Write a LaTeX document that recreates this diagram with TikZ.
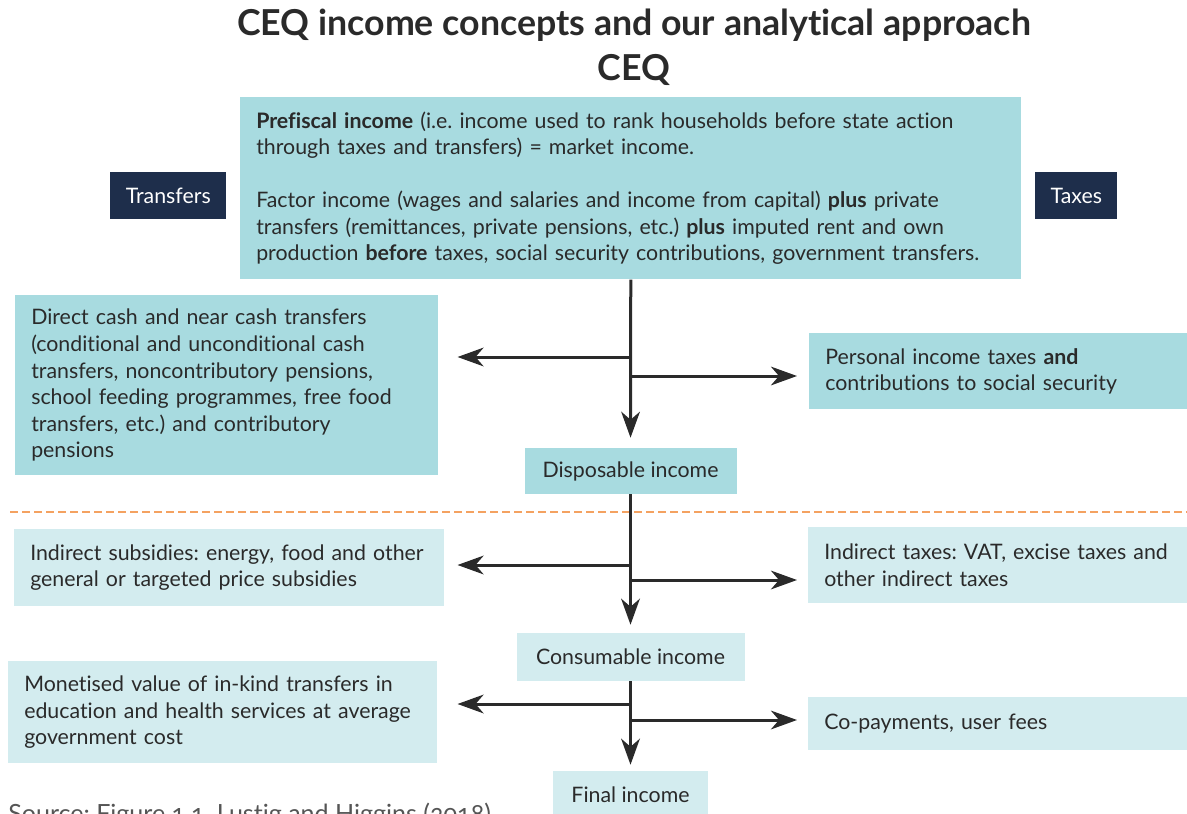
\documentclass[tikz,border=0pt]{standalone}
\usepackage{fontspec}
\setmainfont{Lato}[Ligatures=NoCommon]
\usetikzlibrary{arrows.meta}

\definecolor{boxteal}{HTML}{A8DBE0}
\definecolor{boxpale}{HTML}{D3ECEF}
\definecolor{navy}{HTML}{1E2E4B}
\definecolor{ink}{HTML}{2A2A2A}
\definecolor{rule}{HTML}{F4A261}
\definecolor{srcgray}{HTML}{555555}

\newcommand\bodyfont{\frenchspacing\fontsize{16}{19.9}\selectfont}

\tikzset{
  box/.style={anchor=north west, inner xsep=12pt, inner ysep=0pt,
    align=left, font=\bodyfont, text=ink},
  dark/.style={box, fill=boxteal},
  pale/.style={box, fill=boxpale},
  stage/.style={anchor=center, inner sep=0pt, align=center, font=\bodyfont, text=ink},
  tag/.style={anchor=north west, inner sep=0pt, fill=navy, text=white,
    font=\bodyfont},
  title/.style={font=\bfseries\fontsize{26.8}{30}\selectfont, text=ink},
  flow/.style={draw=ink, line width=2.25pt,
    -{Stealth[length=19.5pt, width=14pt, inset=6pt]}},
  sep/.style={draw=rule, line width=1.5pt, dash pattern=on 6pt off 3pt},
}

\begin{document}
\begin{tikzpicture}[x=0.75pt, y=-0.75pt]
\useasboundingbox (0,0) rectangle (1187,813);

% headings
\node[title] (t1) at (634,25) {CEQ income concepts and our analytical approach};
\node[title] (t2) at (634,70) {CEQ};

% market income
\node[dark, minimum width=585.75pt, minimum height=136.5pt, text width=561.75pt]
  (top) at (240,97)
  {\textbf{Prefiscal income} (i.e. income used to rank households before state action\\
   through taxes and transfers) = market income.\\[19.9pt]
   Factor income (wages and salaries and income from capital) \textbf{plus} private\\
   transfers (remittances, private pensions, etc.) \textbf{plus} imputed rent and own\\
   production \textbf{before} taxes, social security contributions, government transfers.};

\node[tag, minimum width=87pt, minimum height=35.25pt] (tr) at (110,172) {Transfers};
\node[tag, minimum width=61.5pt, minimum height=35.25pt] (tx) at (1035,172) {Taxes};

% first stage
\node[dark, minimum width=317.25pt, minimum height=135pt, text width=293.25pt]
  (direct) at (15,295)
  {Direct cash and near cash transfers\\
   (conditional and unconditional cash\\
   transfers, noncontributory pensions,\\
   school feeding programmes, free food\\
   transfers, etc.) and contributory\\
   pensions};
\node[dark, minimum width=283.5pt, minimum height=57pt, text width=259.5pt]
  (pit) at (809,333)
  {Personal income taxes \textbf{and}\\ contributions to social security};
\node[stage, fill=boxteal, minimum width=159pt, minimum height=34.5pt]
  (disp) at (630.5,471) {Disposable income};

% second stage
\node[pale, minimum width=322.5pt, minimum height=57.75pt, text width=298.5pt]
  (subs) at (14,529)
  {Indirect subsidies: energy, food and other\\ general or targeted price subsidies};
\node[pale, minimum width=284.25pt, minimum height=57pt, text width=260.25pt]
  (indtax) at (808,527)
  {Indirect taxes: VAT, excise taxes and\\ other indirect taxes};
\node[stage, fill=boxpale, minimum width=171pt, minimum height=36pt]
  (cons) at (630.5,657) {Consumable income};

% third stage
\node[pale, minimum width=321.75pt, minimum height=76.5pt, text width=297.75pt]
  (mon) at (8,661)
  {Monetised value of in-kind transfers in\\
   education and health services at average\\
   government cost};
\node[pale, minimum width=284.25pt, minimum height=39.75pt, text width=260.25pt]
  (copay) at (808,697) {Co-payments, user fees};
\node[stage, fill=boxpale, minimum width=116.25pt, minimum height=36pt]
  (final) at (630.5,795) {Final income};

\node[anchor=base west, inner sep=0pt, text=srcgray,
  font=\frenchspacing\fontsize{18.8}{20}\selectfont\addfontfeatures{Numbers=OldStyle}]
  (src) at (8,822) {Source: Figure 1.1, Lustig and Higgins (2018)};

% separator between disposable and consumable income
\coordinate (sepL) at (10,512);
\coordinate (sepR) at (1187,512);
\draw[sep] (sepL) -- (sepR);

% flows
\draw[flow, shorten >=7.5pt] (top.south) -- (disp.north);
\draw[flow, shorten >=14.25pt] (top.south |- 0,357) -- (direct.east |- 0,357);
\draw[flow, shorten >=9pt] (top.south |- 0,376) -- (pit.west |- 0,376);

\draw[flow, shorten >=6pt] (disp.south) -- (cons.north);
\draw[flow, shorten >=9.75pt] (disp.south |- 0,565) -- (subs.east |- 0,565);
\draw[flow, shorten >=8.25pt] (disp.south |- 0,580) -- (indtax.west |- 0,580);

\draw[flow, shorten >=4.5pt] (cons.south) -- (final.north);
\draw[flow, shorten >=15pt] (cons.south |- 0,704) -- (mon.east |- 0,704);
\draw[flow, shorten >=8.25pt] (cons.south |- 0,720) -- (copay.west |- 0,720);
\end{tikzpicture}
\end{document}
